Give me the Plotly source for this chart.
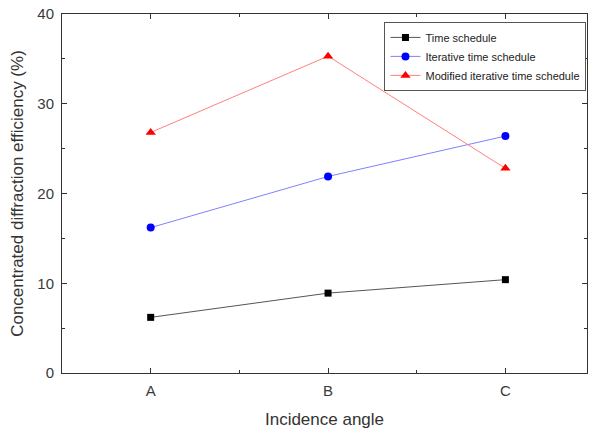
import plotly.graph_objects as go

categories = ["A", "B", "C"]
time_schedule = [6.2, 8.9, 10.4]
iterative = [16.2, 21.9, 26.4]
modified = [26.8, 35.3, 22.8]
y_ticks = [0, 10, 20, 30, 40]

fig = go.Figure()
fig.add_trace(go.Scatter(x=[0, 1, 2], y=time_schedule, name="Time schedule", mode="lines+markers",
                         line=dict(color="#555555", width=1), marker=dict(symbol="square", size=7, color="black")))
fig.add_trace(go.Scatter(x=[0, 1, 2], y=iterative, name="Iterative time schedule", mode="lines+markers",
                         line=dict(color="#8080ff", width=1), marker=dict(symbol="circle", size=8, color="blue")))
fig.add_trace(go.Scatter(x=[0, 1, 2], y=modified, name="Modified iterative time schedule", mode="lines+markers",
                         line=dict(color="#ff8080", width=1), marker=dict(symbol="triangle-up", size=9, color="red")))

axis_common = dict(showline=True, linecolor="#333333", linewidth=1, mirror="ticks", ticks="inside",
                   ticklen=5, tickcolor="#333333", showgrid=False, zeroline=False, automargin=False,
                   ticklabelstandoff=4,
                   tickfont=dict(family="Liberation Sans, Arial", size=15, color="#3a3a3a"))

fig.update_xaxes(range=[-0.5, 2.46], tickvals=[0, 1, 2], ticktext=categories,
                 minor=dict(ticks="inside", ticklen=3, tickvals=[0.5, 1.5], tickcolor="#333333"),
                 title=dict(text="Incidence angle", font=dict(family="Liberation Sans, Arial", size=17, color="#333333"), standoff=15),
                 **axis_common)
fig.update_yaxes(range=[0, 40], tickvals=y_ticks,
                 minor=dict(ticks="inside", ticklen=3, dtick=5, tickcolor="#333333"),
                 title=dict(text="Concentrated diffraction efficiency (%)", font=dict(family="Liberation Sans, Arial", size=17, color="#333333"), standoff=9),
                 **axis_common)

fig.update_layout(width=591, height=430, margin=dict(l=62, r=4, t=14, b=57),
                  plot_bgcolor="white", paper_bgcolor="white", showlegend=True,
                  legend=dict(x=0.999, y=0.978, xanchor="right", yanchor="top", bordercolor="#555555", borderwidth=1,
                              bgcolor="white", font=dict(family="Liberation Sans, Arial", size=11, color="#222222"),
                              itemwidth=30, tracegroupgap=0))
fig.write_html("out.html", config={"displayModeBar": False},
               post_script="document.body.style.margin='0';document.body.style.padding='0';")
